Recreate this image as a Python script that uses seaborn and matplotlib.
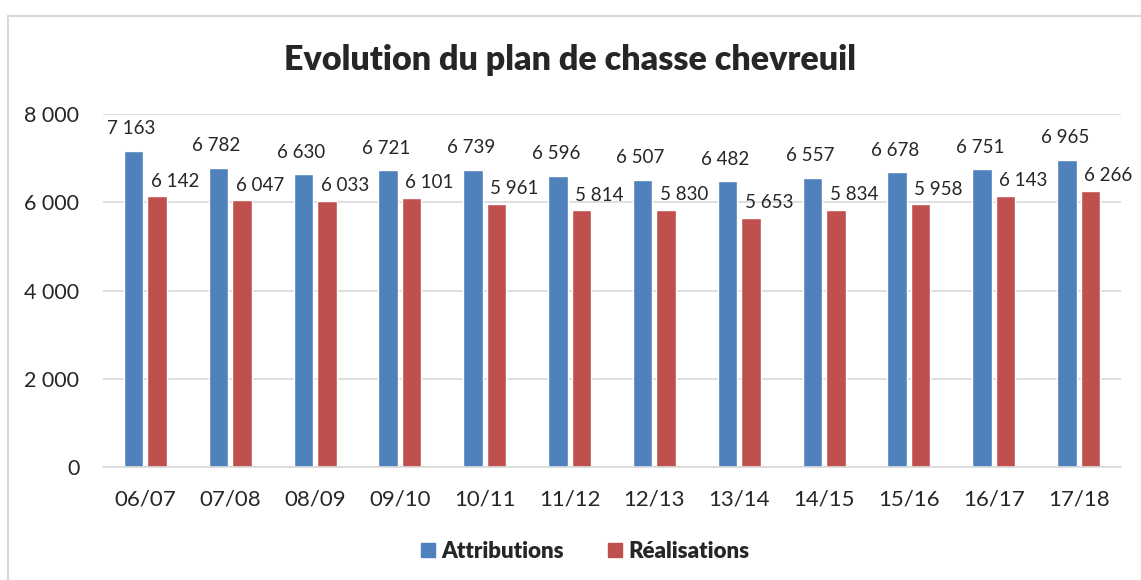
import pandas as pd
import matplotlib.pyplot as plt
import matplotlib.patches as mpatches
import seaborn as sns

seasons = ["06/07", "07/08", "08/09", "09/10", "10/11", "11/12",
           "12/13", "13/14", "14/15", "15/16", "16/17", "17/18"]
attributions = [7163, 6782, 6630, 6721, 6739, 6596, 6507, 6482, 6557, 6678, 6751, 6965]
realisations = [6142, 6047, 6033, 6101, 5961, 5814, 5830, 5653, 5834, 5958, 6143, 6266]
series = ["Attributions", "Réalisations"]
colors = ["#4F81BD", "#C0504D"]


def fmt(v):
    return f"{v:,}".replace(",", " ")


df = pd.DataFrame({
    "season": seasons * 2,
    "value": attributions + realisations,
    "serie": [series[0]] * len(seasons) + [series[1]] * len(seasons),
})

sns.set_style("white")
plt.rcParams['font.family'] = ['Lato', 'DejaVu Sans']

fig = plt.figure(figsize=(11.41, 5.80), dpi=100)
ax = fig.add_axes([0.0903, 0.1948, 0.8922, 0.6086])

sns.barplot(data=df, x="season", y="value", hue="serie", palette=colors,
            width=0.555, gap=0.17, ax=ax, legend=False, saturation=1)

ax.set_ylim(0, 8000)
ax.set_yticks([0, 2000, 4000, 6000, 8000])
ax.set_yticklabels([fmt(t) for t in [0, 2000, 4000, 6000, 8000]], fontsize=15.5)
ax.tick_params(axis='y', length=0, pad=17)
ax.tick_params(axis='x', length=0, pad=16, labelsize=16)
ax.set_xlabel("")
ax.set_ylabel("")
ax.grid(axis='y', color='#d9d9d9', lw=1.2)
ax.set_axisbelow(True)
for s in ["left", "right", "top"]:
    ax.spines[s].set_visible(False)
ax.spines["bottom"].set_color("#d9d9d9")
ax.spines["bottom"].set_linewidth(1.2)

# data labels
for cont, (dx, dy) in zip(ax.containers, [(-2, 22), (18, 15)]):
    for bar, v in zip(cont, cont.datavalues):
        ax.annotate(fmt(int(v)), (bar.get_x() + bar.get_width() / 2, bar.get_height()),
                    xytext=(dx, dy), textcoords='offset pixels',
                    ha='center', va='center', fontsize=13.5)

fig.suptitle("Evolution du plan de chasse chevreuil", y=0.897, va='center',
             fontsize=24.5, fontweight='heavy')

handles = [mpatches.Patch(color=c, label=l) for c, l in zip(colors, series)]
leg = fig.legend(handles=handles, loc='center', bbox_to_anchor=(0.513, 0.05), ncol=2,
                 frameon=False, handlelength=0.6, handleheight=0.6, handletextpad=0.3,
                 columnspacing=2.0, prop={'weight': 'heavy', 'size': 16})

# chart border
fig.patches.append(mpatches.Rectangle((8 / 1141, -0.02), 1.1, 0.996 - 14 / 580 + 0.02,
                                      transform=fig.transFigure, fill=False,
                                      edgecolor='#d9d9d9', lw=1.5))

fig.savefig("out.png", dpi=100)
